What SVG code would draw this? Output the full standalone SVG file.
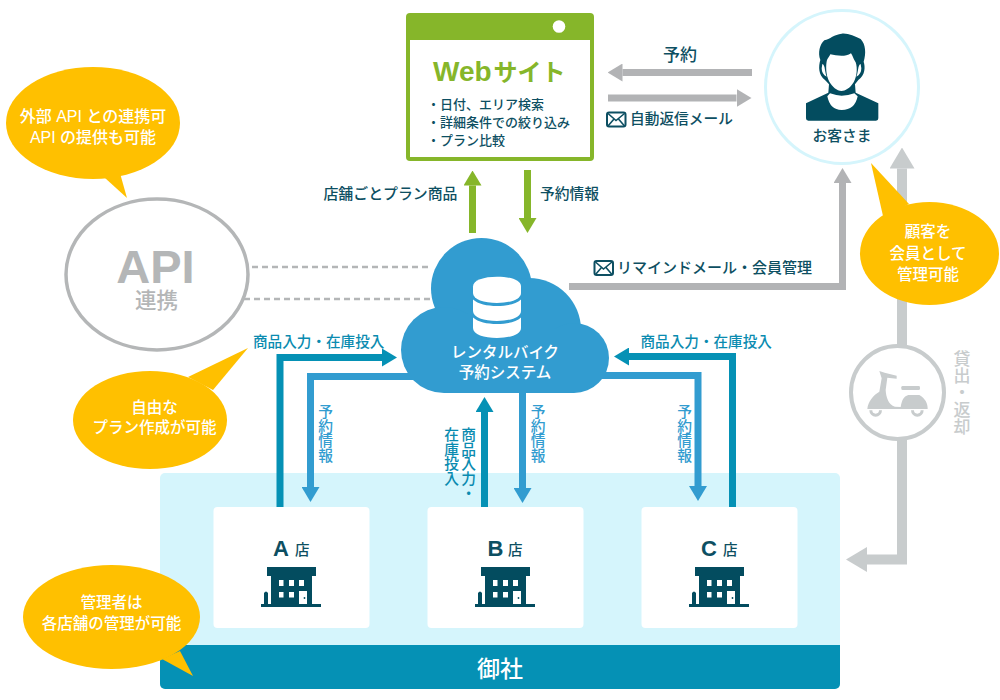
<svg xmlns="http://www.w3.org/2000/svg" xmlns:xlink="http://www.w3.org/1999/xlink" width="1000" height="700" viewBox="0 0 1000 700">
<style>
text{font-family:"Noto Sans CJK JP","Noto Sans",sans-serif;font-weight:500}
.latin{font-family:"Liberation Sans","Noto Sans CJK JP",sans-serif;font-weight:700}
.dark{fill:#0d4f62}
.teal{fill:#0a8bb0}
.sky{fill:#329cd0}
.white{fill:#fff}
.mid{text-anchor:middle}
.v{writing-mode:vertical-rl;font-size:14.75px}
.note{font-size:15.5px;fill:#fff;text-anchor:middle;font-family:"Liberation Sans","Noto Sans CJK JP",sans-serif}
.bubble{fill:#ffc000}
.line{fill:none}
.icon{fill:#034c5f}
</style>
<defs>
<marker id="h-blue" markerUnits="userSpaceOnUse" markerWidth="15" markerHeight="18" refX="0" refY="9" orient="auto"><path d="M0 0L15 9L0 18Z" fill="#0591b5"/></marker>
<marker id="h-sky" markerUnits="userSpaceOnUse" markerWidth="15" markerHeight="18" refX="0" refY="9" orient="auto"><path d="M0 0L15 9L0 18Z" fill="#329cd0"/></marker>
<marker id="h-green" markerUnits="userSpaceOnUse" markerWidth="15" markerHeight="18" refX="0" refY="9" orient="auto"><path d="M0 0L15 9L0 18Z" fill="#86b62a"/></marker>
<marker id="h-gray" markerUnits="userSpaceOnUse" markerWidth="15" markerHeight="18" refX="0" refY="9" orient="auto"><path d="M0 0L15 9L0 18Z" fill="#b2b3b5"/></marker>
<marker id="h-pale" markerUnits="userSpaceOnUse" markerWidth="21" markerHeight="25" refX="0" refY="12.5" orient="auto"><path d="M0 0L21 12.5L0 25Z" fill="#c8cccd"/></marker>
<g id="mail"><rect x="1" y="1" width="18.5" height="14" rx="2" fill="#fff" stroke="#0d4f62" stroke-width="2"/><path d="M2 2L10 9L18.500 2M2 14.500L8 7.500M18.500 14.500L12.500 7.500" fill="none" stroke="#0d4f62" stroke-width="1.600"/></g>
<g id="building">
<path class="icon" d="M267 567H316V576H312V604H321V607H261V604H264V593Q266 590 268 593V604H271V576H267Z"/>
<path fill="#fff" d="M279 580h4.500v6h-4.500zM289 580h5v6h-5zM299 580h5v6h-5zM279 592h4.500v5.500h-4.500zM289 592h5v5.500h-5zM299 591h8v13h-8z"/>
<circle cx="304.500" cy="598" r="0.900" class="icon"/>
</g>
</defs>

<g id="panel-company">
<rect x="160" y="473" width="680" height="216" rx="5" fill="#d5f5fc"/>
<path d="M160 645H840V684a5 5 0 0 1-5 5H165a5 5 0 0 1-5-5Z" fill="#0591b5"/>
<text class="white mid" x="500" y="677" font-size="23">御社</text>
</g>

<g id="connectors" class="line">
<path d="M252 267H432M244 299H432" stroke="#b4b6b7" stroke-width="2.500" stroke-dasharray="6 4"/>
<path d="M752 72.500H622.500" stroke="#b2b3b5" stroke-width="7" marker-end="url(#h-gray)"/>
<path d="M608 98H736.500" stroke="#b2b3b5" stroke-width="7" marker-end="url(#h-gray)"/>
<path d="M472.500 233V185.500" stroke="#86b62a" stroke-width="7" marker-end="url(#h-green)"/>
<path d="M527.500 170V218" stroke="#86b62a" stroke-width="7" marker-end="url(#h-green)"/>
<path d="M569 286.500H842.500V183" stroke="#b2b3b5" stroke-width="7" marker-end="url(#h-gray)"/>
<path d="M902 400V168.500" stroke="#c8cccd" stroke-width="10" marker-end="url(#h-pale)"/>
<path d="M902 400V559.500H867" stroke="#c8cccd" stroke-width="10" marker-end="url(#h-pale)"/>
<path d="M280 507V357.500H382" stroke="#0591b5" stroke-width="7" marker-end="url(#h-blue)"/>
<path d="M420 376.500H310.500V487" stroke="#329cd0" stroke-width="7" marker-end="url(#h-sky)"/>
<path d="M484.500 507V412" stroke="#0591b5" stroke-width="7" marker-end="url(#h-blue)"/>
<path d="M522.500 385V488" stroke="#329cd0" stroke-width="7" marker-end="url(#h-sky)"/>
<path d="M732.500 507V356.500H629" stroke="#0591b5" stroke-width="7" marker-end="url(#h-blue)"/>
<path d="M590 375.500H698V486" stroke="#329cd0" stroke-width="7" marker-end="url(#h-sky)"/>
</g>

<g id="node-web">
<rect x="406" y="13" width="188" height="148" rx="4" fill="#86b62a"/>
<rect x="410" y="40" width="180" height="117" fill="#fff"/>
<circle cx="559" cy="26.500" r="6.300" fill="#fff"/>
<text x="433" y="80.500" fill="#86b62a"><tspan class="latin" font-size="28">Web</tspan><tspan font-size="24" font-weight="700" dx="2">サイト</tspan></text>
<g class="dark" font-size="13">
<text x="427" y="109">・日付、エリア検索</text>
<text x="427" y="127">・詳細条件での絞り込み</text>
<text x="427" y="144.500">・プラン比較</text>
</g>
</g>

<g id="node-customer">
<circle cx="842" cy="87" r="76.500" fill="#fff" stroke="#d5f5fc" stroke-width="3"/>
<g transform="translate(795 25) scale(.3333)">
<path class="icon" d="M76 105C68 85 74 58 88 46C105 42 118 28 140 26C160 24 178 34 197 42C212 58 214 85 206 110C211 125 211 150 190 165L180 178L182 203L250 235V280Q250 287 243 287H40Q33 287 33 280V235L100 203L102 178L90 165C70 150 70 125 76 105Z"/>
<path fill="#fff" d="M106 88C125 92 150 97 168 85C173 92 174 100 182 112C188 130 186 155 176 172C165 190 150 198 140 198C125 197 112 185 103 170C92 150 92 120 96 105C100 98 103 94 106 88Z"/>
<path fill="#fff" d="M82 117Q88 118 90 135Q92 148 95 155Q80 148 80 130ZM197 117Q191 118 189 135Q187 148 184 155Q199 148 199 130Z"/>
<path fill="#fff" d="M97 214L105 205Q125 212 140 212Q160 212 178 205L188 214Q180 255 140 255Q105 255 97 214Z"/>
</g>
<text class="dark mid" x="842" y="141" font-size="14.750">お客さま</text>
</g>

<g id="node-api">
<ellipse cx="157" cy="274.500" rx="91" ry="75.500" fill="#fff" stroke="#b4b6b7" stroke-width="3.500"/>
<text class="latin mid" x="155.500" y="283" font-size="47" fill="#b4b6b7">API</text>
<text class="mid" x="156.500" y="308" font-size="21.500" font-weight="700" fill="#b4b6b7">連携</text>
</g>

<g id="node-system">
<g fill="#329cd0">
<circle cx="481.500" cy="288.500" r="50.500"/>
<circle cx="529" cy="330" r="52"/>
<circle cx="444" cy="350" r="43"/>
<circle cx="574" cy="358" r="35"/>
<rect x="444" y="330" width="130" height="63"/>
</g>
<g fill="#fff">
<path d="M473 286.500C473 280 484 276.700 497 276.700S521 280 521 286.500V293C521 299.500 510 303 497 303S473 299.500 473 293Z"/>
<path d="M473 299.500C478 304 487 306 497 306S516 304 521 299.500V311C521 317.500 510 321 497 321S473 317.500 473 311Z"/>
<path d="M473 317.500C478 322 487 324 497 324S516 322 521 317.500V328C521 334.500 510 338 497 338S473 334.500 473 328Z"/>
</g>
<text class="white mid" x="505" y="358" font-size="15.500">レンタルバイク</text>
<text class="white mid" x="505" y="378" font-size="15.500">予約システム</text>
</g>

<g id="node-store-a">
<rect x="213.500" y="507" width="156" height="121" rx="4" fill="#fff"/>
<text class="latin dark" x="273" y="555.500" font-size="22">A</text>
<text class="dark" x="295" y="555" font-size="14.500">店</text>
<use xlink:href="#building"/>
</g>
<g id="node-store-b">
<rect x="427.500" y="507" width="156" height="121" rx="4" fill="#fff"/>
<text class="latin dark" x="487.500" y="555.500" font-size="22">B</text>
<text class="dark" x="508" y="555" font-size="14.500">店</text>
<use xlink:href="#building" x="214"/>
</g>
<g id="node-store-c">
<rect x="641.500" y="507" width="156" height="121" rx="4" fill="#fff"/>
<text class="latin dark" x="701" y="555.500" font-size="22">C</text>
<text class="dark" x="723" y="555" font-size="14.500">店</text>
<use xlink:href="#building" x="428"/>
</g>

<g id="node-scooter">
<circle cx="897.500" cy="392.500" r="46.500" fill="#fff" stroke="#c8cccd" stroke-width="4"/>
<g transform="translate(840 335) scale(.3333)" fill="#c8cccd">
<path d="M118 108L134 113L170 122V131L142 128L137 165C138 185 145 210 165 215L182 216C186 195 190 185 205 180H238C255 190 264 205 263 222H82C84 200 100 180 118 170L125 130Z"/>
<rect x="184" y="153" width="56" height="12" rx="4"/>
<path d="M88 226a19 19 0 0 0 38 0h-9a10 10 0 0 1-20 0ZM213 226a19 19 0 0 0 38 0h-9a10 10 0 0 1-20 0Z"/>
</g>
</g>

<g id="labels">
<text class="dark mid" x="680" y="61" font-size="17">予約</text>
<use xlink:href="#mail" x="606" y="111.500"/>
<text class="dark" x="630" y="124" font-size="14.700">自動返信メール</text>
<text class="dark" x="457.500" y="199" font-size="14.900" text-anchor="end">店舗ごとプラン商品</text>
<text class="dark" x="540" y="199" font-size="14.750">予約情報</text>
<use xlink:href="#mail" x="593.500" y="260"/>
<text class="dark" x="617" y="273" font-size="15">リマインドメール・会員管理</text>
<text class="teal" x="253" y="346.500" font-size="14.600">商品入力・在庫投入</text>
<text class="teal" x="640.500" y="346.500" font-size="14.600">商品入力・在庫投入</text>
<text class="sky v" x="325.500" y="404">予約情報</text>
<text class="sky v" x="538" y="404">予約情報</text>
<text class="sky v" x="684.500" y="404">予約情報</text>
<text class="teal v" x="468.500" y="427">商品入力・</text>
<text class="teal v" x="451.500" y="427">在庫投入</text>
<text x="962" y="350" font-size="17" fill="#c8cccd" style="writing-mode:vertical-rl">貸出・返却</text>
</g>

<g id="bubble-api">
<path class="bubble" d="M105 178L127 198L120.500 175Z"/>
<ellipse class="bubble" cx="93" cy="123" rx="87" ry="56"/>
<text class="note" x="93" y="122" style="font-size:16px">外部 API との連携可</text>
<text class="note" x="93" y="143" style="font-size:16px">API の提供も可能</text>
</g>
<g id="bubble-plan">
<path class="bubble" d="M188 377L248 348L213 390Z"/>
<ellipse class="bubble" cx="150" cy="420" rx="77" ry="49"/>
<text class="note" x="154.500" y="413">自由な</text>
<text class="note" x="154.500" y="433">プラン作成が可能</text>
</g>
<g id="bubble-member">
<path class="bubble" d="M883 216L871 163L909 204Z"/>
<ellipse class="bubble" cx="929.500" cy="253.500" rx="69.500" ry="51.500"/>
<text class="note" x="928" y="237">顧客を</text>
<text class="note" x="928" y="258.500">会員として</text>
<text class="note" x="928" y="280">管理可能</text>
</g>
<g id="bubble-admin">
<path class="bubble" d="M180 651L193 676L162 659Z"/>
<ellipse class="bubble" cx="111.500" cy="617" rx="88.500" ry="52"/>
<text class="note" x="111.500" y="608">管理者は</text>
<text class="note" x="111.500" y="629">各店舗の管理が可能</text>
</g>
</svg>
